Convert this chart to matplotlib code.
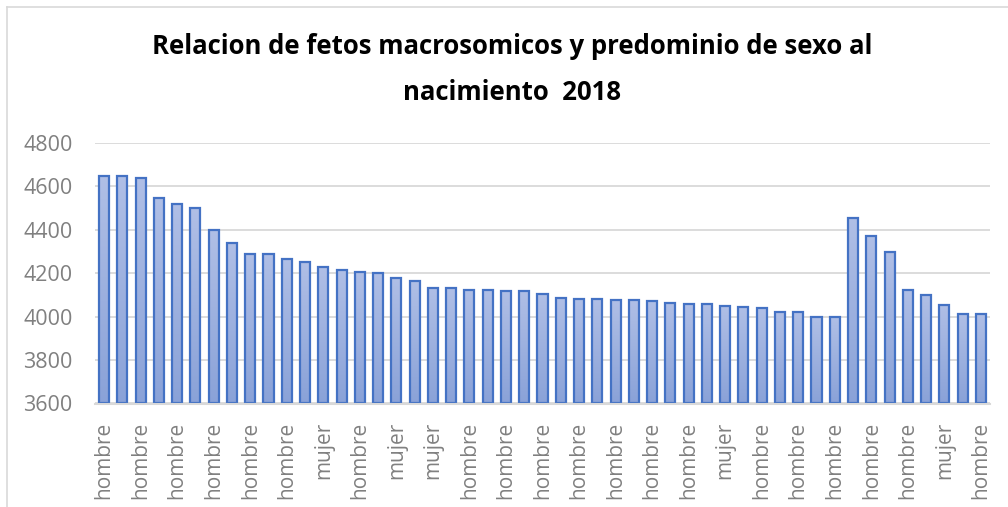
import numpy as np
import matplotlib
matplotlib.use("Agg")
import matplotlib.pyplot as plt
from matplotlib.lines import Line2D
from matplotlib.colors import LinearSegmentedColormap

# ---- data ----
weights = [4650, 4650, 4640, 4545, 4520, 4500, 4400, 4340, 4290, 4290,
           4265, 4250, 4230, 4215, 4205, 4200, 4180, 4165, 4130, 4130,
           4125, 4125, 4120, 4120, 4105, 4085, 4080, 4080, 4075, 4075,
           4070, 4065, 4060, 4060, 4050, 4045, 4040, 4020, 4020, 4000,
           4000, 4455, 4370, 4300, 4125, 4100, 4055, 4010, 4010]
# labels visible on every other bar
tick_labels = ["hombre", "hombre", "hombre", "hombre", "hombre", "hombre",
               "mujer", "hombre", "mujer", "mujer", "hombre", "hombre",
               "hombre", "hombre", "hombre", "hombre", "hombre", "mujer",
               "hombre", "hombre", "hombre", "hombre", "hombre", "mujer",
               "hombre"]
y_ticks = [3600, 3800, 4000, 4200, 4400, 4600, 4800]
title_lines = ["Relacion de fetos macrosomicos y predominio de sexo al",
               "nacimiento  2018"]

W, H = 1008, 507
fig = plt.figure(figsize=(W / 100, H / 100), dpi=100)
fig.patch.set_facecolor("white")

ax = fig.add_axes([95 / W, 1 - 403.5 / H, (990 - 95) / W, (403.5 - 143) / H])
x = np.arange(len(weights))
bars = ax.bar(x, [w - y_ticks[0] for w in weights], bottom=y_ticks[0], width=0.55,
              facecolor="none", edgecolor="#4472c4", linewidth=1.6, zorder=3)

cmap = LinearSegmentedColormap.from_list("g", ["#8aa2d8", "#b0bfe6"])
grad = np.linspace(0, 1, 256).reshape(-1, 1)
for b in bars:
    x0, y0 = b.get_x(), b.get_y()
    im = ax.imshow(grad, cmap=cmap, origin="lower", aspect="auto",
                   extent=[x0, x0 + b.get_width(), y0, y0 + b.get_height()],
                   zorder=2)
    im.set_clip_path(b)

ax.set_xlim(-0.5, len(weights) - 0.5)
ax.set_ylim(y_ticks[0], y_ticks[-1])
ax.set_yticks(y_ticks)
ax.set_yticklabels([str(v) for v in y_ticks], fontfamily="Open Sans",
                   fontsize=15.5, color="#808080")
ax.set_xticks(x[::2])
ax.set_xticklabels(tick_labels, rotation=90, fontfamily="Open Sans",
                   fontsize=15, color="#808080")
ax.tick_params(axis="y", length=0, pad=16)
ax.tick_params(axis="x", length=0, pad=13)
ax.grid(axis="y", color="#d9d9d9", linewidth=1.3, zorder=0)
ax.set_axisbelow(True)
for s in ["top", "right", "left"]:
    ax.spines[s].set_visible(False)
ax.spines["bottom"].set_color("#d9d9d9")
ax.spines["bottom"].set_linewidth(1.5)
ax.spines["bottom"].set_zorder(4)

fig.text(0.508, 1 - 47 / H, title_lines[0], ha="center", va="center",
         fontfamily="Open Sans", fontweight="bold", fontsize=18.5, color="black")
fig.text(0.508, 1 - 92 / H, title_lines[1], ha="center", va="center",
         fontfamily="Open Sans", fontweight="bold", fontsize=18.5, color="black")

# chart frame
fig.add_artist(Line2D([7 / W, 7 / W], [0, 1 - 7 / H], color="#d9d9d9",
                      linewidth=1.2, transform=fig.transFigure))
fig.add_artist(Line2D([7 / W, 1], [1 - 7 / H, 1 - 7 / H], color="#d9d9d9",
                      linewidth=1.2, transform=fig.transFigure))

fig.savefig("out.png", dpi=100, facecolor="white")
